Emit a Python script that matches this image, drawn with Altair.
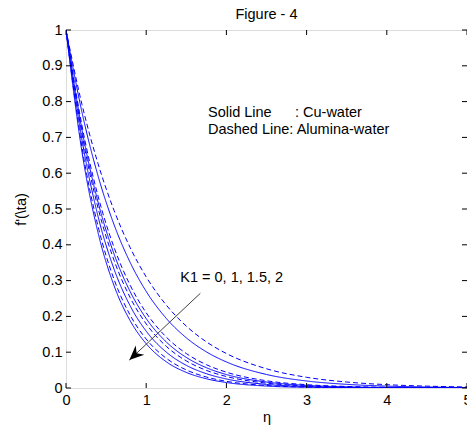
import altair as alt
import pandas as pd

# eta grid and velocity profiles f'(eta)
eta = [0, 0.2, 0.4, 0.6, 0.8, 1.0, 1.25, 1.5, 1.75, 2.0, 2.5, 3.0, 3.5, 4.0, 4.5, 5.0]

alumina_k0 = [1, 0.7913, 0.6263, 0.4956, 0.3922, 0.3104, 0.2317, 0.1729, 0.1290, 0.0963, 0.0537, 0.0299, 0.0167, 0.0093, 0.0052, 0.0029]
cu_k0      = [1, 0.7695, 0.5921, 0.4557, 0.3507, 0.2698, 0.1945, 0.1402, 0.1010, 0.0728, 0.0378, 0.0196, 0.0102, 0.0053, 0.0028, 0.0014]
alumina_k1 = [1, 0.7320, 0.5358, 0.3922, 0.2871, 0.2101, 0.1423, 0.0963, 0.0652, 0.0442, 0.0202, 0.0093, 0.0043, 0.0019, 0.0009, 0.0004]
cu_k1      = [1, 0.7204, 0.5189, 0.3738, 0.2693, 0.1940, 0.1287, 0.0854, 0.0567, 0.0376, 0.0166, 0.0073, 0.0032, 0.0014, 0.0006, 0.0003]
alumina_k15 = [1, 0.7089, 0.5026, 0.3563, 0.2526, 0.1791, 0.1165, 0.0758, 0.0493, 0.0321, 0.0136, 0.0057, 0.0024, 0.0010, 0.0004, 0.0002]
cu_k15      = [1, 0.6921, 0.4790, 0.3315, 0.2295, 0.1588, 0.1003, 0.0633, 0.0400, 0.0252, 0.0101, 0.0040, 0.0016, 0.0006, 0.0003, 0.0001]
alumina_k2 = [1, 0.6717, 0.4511, 0.3030, 0.2035, 0.1367, 0.0831, 0.0505, 0.0307, 0.0187, 0.0069, 0.0026, 0.0009, 0.0003, 0.0001, 0.0000]
cu_k2      = [1, 0.6584, 0.4334, 0.2854, 0.1879, 0.1237, 0.0733, 0.0435, 0.0258, 0.0153, 0.0054, 0.0019, 0.0007, 0.0002, 0.0001, 0.0000]

series = [
    ("K1=0 Alumina", "Alumina-water", alumina_k0),
    ("K1=0 Cu", "Cu-water", cu_k0),
    ("K1=1 Alumina", "Alumina-water", alumina_k1),
    ("K1=1 Cu", "Cu-water", cu_k1),
    ("K1=1.5 Alumina", "Alumina-water", alumina_k15),
    ("K1=1.5 Cu", "Cu-water", cu_k15),
    ("K1=2 Alumina", "Alumina-water", alumina_k2),
    ("K1=2 Cu", "Cu-water", cu_k2),
]

x_ticks = [0, 1, 2, 3, 4, 5]
y_ticks = [0, 0.1, 0.2, 0.3, 0.4, 0.5, 0.6, 0.7, 0.8, 0.9, 1.0]

ann_x = [1.77, 2.855, 1.77, 1.425]
ann_y = [0.768, 0.768, 0.721, 0.307]
ann_text = ["Solid Line", ": Cu-water", "Dashed Line: Alumina-water", "K1 = 0, 1, 1.5, 2"]

arrow_from = (1.675, 0.2645)
arrow_to = (0.79, 0.078)

rows = []
for name, fluid, vals in series:
    for e, v in zip(eta, vals):
        rows.append({"eta": e, "f": v, "curve": name, "fluid": fluid})
df = pd.DataFrame(rows)

W, H = 401, 358
FONT = "Liberation Sans"
FS = 14.5

xs = alt.Scale(domain=[0, 5], nice=False)
ys = alt.Scale(domain=[0, 1], nice=False)

x_axis = alt.Axis(values=x_ticks, format="~g", ticks=False, domain=False, grid=False,
                  labelFont=FONT, labelFontSize=FS, labelColor="#000000",
                  labelPadding=5, title="η", titleFont=FONT, titleFontSize=FS,
                  titleFontWeight="normal", titleColor="#000000", titlePadding=4,
                  labelFlush=False, labelOverlap=False)
y_axis = alt.Axis(values=y_ticks, format="~g", ticks=False, domain=False, grid=False,
                  labelFont=FONT, labelFontSize=FS, labelColor="#000000",
                  labelPadding=4, title="f'(\\ta)", titleFont=FONT, titleFontSize=FS,
                  titleFontWeight="normal", titleColor="#000000", titlePadding=13,
                  labelFlush=False, labelOverlap=False)


def X(field):
    return alt.X(field, scale=xs, axis=x_axis)


def Y(field):
    return alt.Y(field, scale=ys, axis=y_axis)


lines = alt.Chart(df).mark_line(strokeWidth=1, color="#0000FF", interpolate="monotone", clip=True).encode(
    x=X("eta:Q"),
    y=Y("f:Q"),
    detail="curve:N",
    strokeDash=alt.StrokeDash("fluid:N", scale=alt.Scale(domain=["Cu-water", "Alumina-water"],
                                                         range=[[1, 0], [5, 3]]), legend=None),
)

xt = pd.DataFrame({"t": x_ticks})
yt = pd.DataFrame({"t": y_ticks})
tick_bottom = alt.Chart(xt).mark_rule(color="#000000", strokeWidth=1).encode(
    x=X("t:Q"), y=alt.value(H), y2=alt.value(H - 5))
tick_top = alt.Chart(xt).mark_rule(color="#000000", strokeWidth=1).encode(
    x=X("t:Q"), y=alt.value(0), y2=alt.value(5))
tick_left = alt.Chart(yt).mark_rule(color="#000000", strokeWidth=1).encode(
    y=Y("t:Q"), x=alt.value(0), x2=alt.value(5))
tick_right = alt.Chart(yt).mark_rule(color="#000000", strokeWidth=1).encode(
    y=Y("t:Q"), x=alt.value(W - 5), x2=alt.value(W))

ann = pd.DataFrame({"x": ann_x, "y": ann_y, "text": ann_text})
texts = alt.Chart(ann).mark_text(align="left", baseline="middle", font=FONT, fontSize=FS, color="#000000").encode(
    x=X("x:Q"), y=Y("y:Q"), text="text:N")

arr = pd.DataFrame({"x": [arrow_from[0]], "y": [arrow_from[1]], "x2": [arrow_to[0]], "y2": [arrow_to[1]]})
arrow_line = alt.Chart(arr).mark_rule(color="#404040", strokeWidth=1).encode(
    x=X("x:Q"), y=Y("y:Q"), x2="x2:Q", y2="y2:Q")
head = pd.DataFrame({"x": [arrow_to[0]], "y": [arrow_to[1]]})
arrow_head = alt.Chart(head).mark_point(
    shape="M0,0 L0.7,1.6 L0,1.1 L-0.7,1.6 Z", filled=True, color="#000000", opacity=1,
    size=330, angle=227, strokeWidth=0).encode(
    x=X("x:Q"), y=Y("y:Q"))

chart = alt.layer(lines, tick_bottom, tick_top, tick_left, tick_right, arrow_line, arrow_head, texts).properties(
    width=W, height=H,
    title=alt.TitleParams("Figure - 4", font=FONT, fontSize=FS, fontWeight="normal", color="#000000", offset=0),
    autosize=alt.AutoSizeParams(type="none"),
    padding={"left": 66, "top": 30, "right": 0, "bottom": 41},
).configure_view(stroke="#000000", strokeWidth=1).configure(background="#ffffff")

chart.save("out.html", embed_options={"renderer": "svg", "actions": False})
